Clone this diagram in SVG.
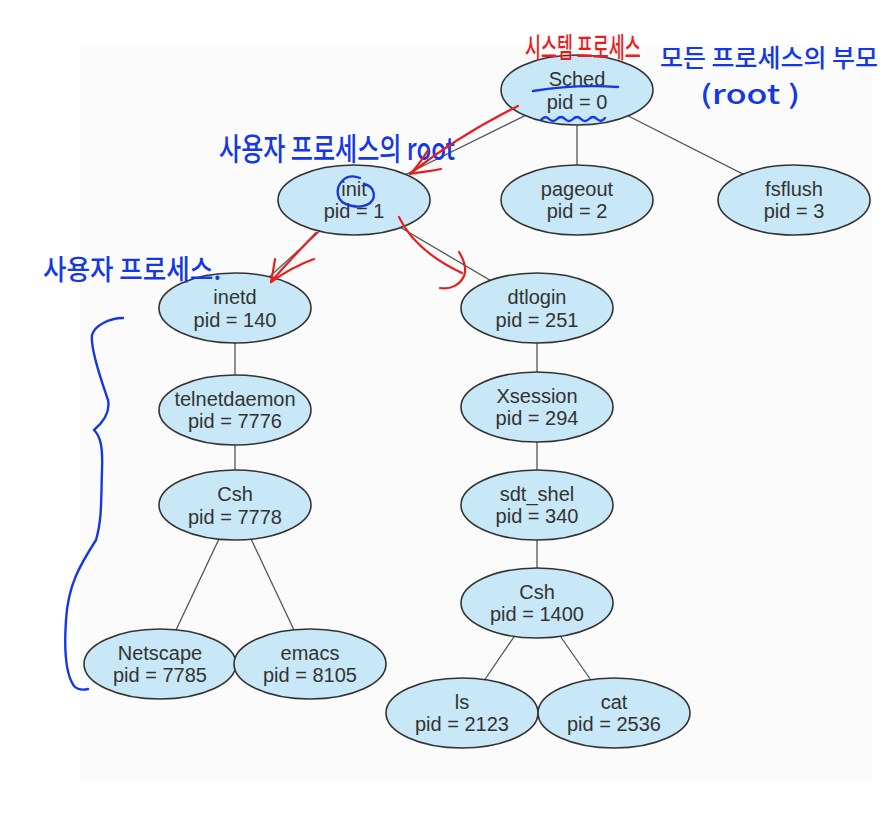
<svg xmlns="http://www.w3.org/2000/svg" width="892" height="819" viewBox="0 0 892 819">
<style>
.node ellipse{fill:#c8e7f7;stroke:#333;stroke-width:1.6}
.node text{font-family:"Liberation Sans",Arial,sans-serif;font-size:20px;fill:#333;text-anchor:middle}
.edge{stroke:#555;stroke-width:1.3;fill:none}
.red{stroke:#ea1c1c;stroke-width:2.2;fill:none;stroke-linecap:round;stroke-linejoin:round}
.blue{stroke:#1438e6;stroke-width:2.4;fill:none;stroke-linecap:round;stroke-linejoin:round}
.hand{font-family:"Noto Sans CJK KR","Noto Sans",sans-serif;font-weight:500}
</style>
<rect x="0" y="0" width="892" height="819" fill="#ffffff"/>
<rect x="80" y="45" width="792" height="735" fill="#fbfbfc"/>
<g id="connectors">
<line class="edge" x1="577" y1="90" x2="354" y2="200"/>
<line class="edge" x1="577" y1="90" x2="577" y2="200"/>
<line class="edge" x1="577" y1="90" x2="794" y2="200"/>
<line class="edge" x1="354" y1="200" x2="235" y2="308"/>
<line class="edge" x1="354" y1="200" x2="537" y2="308"/>
<line class="edge" x1="235" y1="308" x2="235" y2="410"/>
<line class="edge" x1="235" y1="410" x2="235" y2="505"/>
<line class="edge" x1="235" y1="505" x2="160" y2="664"/>
<line class="edge" x1="235" y1="505" x2="310" y2="664"/>
<line class="edge" x1="537" y1="308" x2="537" y2="407"/>
<line class="edge" x1="537" y1="407" x2="537" y2="505"/>
<line class="edge" x1="537" y1="505" x2="537" y2="603"/>
<line class="edge" x1="537" y1="603" x2="462" y2="713"/>
<line class="edge" x1="537" y1="603" x2="614" y2="713"/>
</g>
<g id="n-sched" class="node"><ellipse cx="577" cy="90" rx="76" ry="35"/><text x="577" y="86">Sched</text><text x="577" y="109">pid = 0</text></g>
<g id="n-init" class="node"><ellipse cx="354" cy="200" rx="76" ry="35"/><text x="354" y="196">init</text><text x="354" y="218">pid = 1</text></g>
<g id="n-pageout" class="node"><ellipse cx="577" cy="200" rx="76" ry="35"/><text x="577" y="196">pageout</text><text x="577" y="218">pid = 2</text></g>
<g id="n-fsflush" class="node"><ellipse cx="794" cy="200" rx="76" ry="35"/><text x="794" y="196">fsflush</text><text x="794" y="218">pid = 3</text></g>
<g id="n-inetd" class="node"><ellipse cx="235" cy="308" rx="76" ry="35"/><text x="235" y="304">inetd</text><text x="235" y="327">pid = 140</text></g>
<g id="n-dtlogin" class="node"><ellipse cx="537" cy="308" rx="76" ry="35"/><text x="537" y="304">dtlogin</text><text x="537" y="327">pid = 251</text></g>
<g id="n-telnet" class="node"><ellipse cx="235" cy="410" rx="76" ry="35"/><text x="235" y="406">telnetdaemon</text><text x="235" y="428">pid = 7776</text></g>
<g id="n-xsession" class="node"><ellipse cx="537" cy="407" rx="76" ry="35"/><text x="537" y="403">Xsession</text><text x="537" y="425">pid = 294</text></g>
<g id="n-csh7778" class="node"><ellipse cx="235" cy="505" rx="76" ry="35"/><text x="235" y="501">Csh</text><text x="235" y="524">pid = 7778</text></g>
<g id="n-sdtshel" class="node"><ellipse cx="537" cy="505" rx="76" ry="35"/><text x="537" y="501">sdt_shel</text><text x="537" y="523">pid = 340</text></g>
<g id="n-csh1400" class="node"><ellipse cx="537" cy="603" rx="76" ry="35"/><text x="537" y="599">Csh</text><text x="537" y="621">pid = 1400</text></g>
<g id="n-netscape" class="node"><ellipse cx="160" cy="664" rx="76" ry="35"/><text x="160" y="660">Netscape</text><text x="160" y="682">pid = 7785</text></g>
<g id="n-emacs" class="node"><ellipse cx="310" cy="664" rx="76" ry="35"/><text x="310" y="660">emacs</text><text x="310" y="682">pid = 8105</text></g>
<g id="n-ls" class="node"><ellipse cx="462" cy="713" rx="76" ry="35"/><text x="462" y="709">ls</text><text x="462" y="731">pid = 2123</text></g>
<g id="n-cat" class="node"><ellipse cx="614" cy="713" rx="76" ry="35"/><text x="614" y="709">cat</text><text x="614" y="731">pid = 2536</text></g>
<g id="annotations">
<text class="hand" transform="translate(525,58) scale(0.62,1)" x="0" y="0" font-size="28" font-weight="700" fill="#ea1c1c">시스템 프로세스</text>
<text class="hand" x="660" y="67" font-size="25" fill="#1438e6" textLength="218" lengthAdjust="spacingAndGlyphs">모든 프로세스의 부모</text>
<text class="hand" x="700" y="104" font-size="26" fill="#1438e6" textLength="100" lengthAdjust="spacingAndGlyphs">(root )</text>
<text class="hand" x="219" y="160" font-size="31" fill="#1438e6" textLength="236" lengthAdjust="spacingAndGlyphs">사용자 프로세스의 root</text>
<text class="hand" x="43" y="280" font-size="28" fill="#1438e6" textLength="178" lengthAdjust="spacingAndGlyphs">사용자 프로세스.</text>
<path class="blue" d="M533,91 Q575,84 618,87"/>
<path class="blue" d="M541,120 q4,-5 8,-1 t8,0 t8,0 t8,0 t8,0 t8,0 t8,0 t8,-1"/>
<path class="blue" d="M360,178 C345,172 336,185 338,195 C340,206 360,210 370,203 C377,197 374,186 364,184"/>
<path class="blue" d="M123,318 C110,318 95,325 92,335 C90,350 103,385 108,400 C111,415 100,425 94,430 C100,436 103,445 102,470 C101,500 102,520 96,540 C80,565 68,585 66,620 C64,650 66,675 74,686 C78,690 84,690 88,689"/>
<path class="red" d="M518,106 C480,125 440,150 410,174"/>
<path class="red" d="M410,174 C420,164 424,156 428,150 M410,174 C420,172 432,171 441,169"/>
<path class="red" d="M316,233 C300,250 285,265 271,282"/>
<path class="red" d="M271,282 C273,272 274,266 275,259 M271,282 C285,272 300,264 314,259"/>
<path class="red" d="M399,217 C410,240 430,258 462,273"/>
<path class="red" d="M459,252 C464,260 467,268 464,276 C460,285 450,290 440,288"/>
</g>
</svg>
